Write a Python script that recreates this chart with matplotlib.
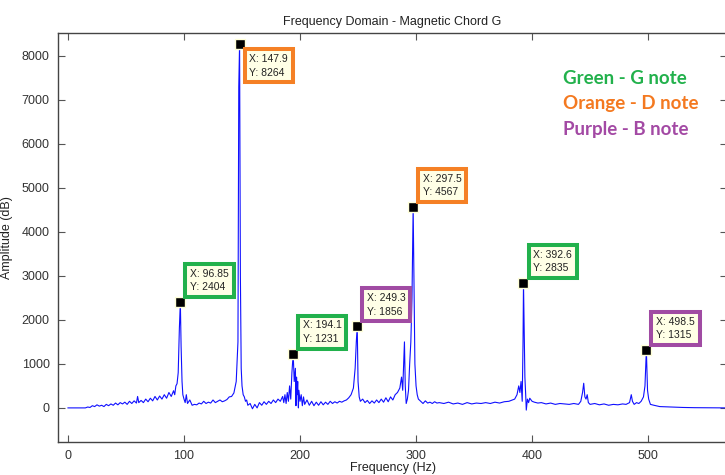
import matplotlib
matplotlib.use("Agg")
import matplotlib.pyplot as plt

# spectrum (Hz, amplitude)
freq = [0, 5, 10, 15, 17, 19, 21, 23, 25, 27, 29, 31, 33, 35, 37, 39, 41, 43, 45, 47,
        49, 51, 53, 55, 57, 59, 60, 61, 63, 65, 67, 69, 71, 73, 75, 77, 79, 81, 83, 85,
        87, 89, 91, 92, 93, 94, 95, 96, 96.85, 97.5, 98.3, 99, 100, 101, 102, 103, 105,
        107, 109, 111, 113, 115, 117, 119, 121, 123, 125, 127, 129, 131, 133, 135, 137,
        139, 141, 143, 145, 146.5, 147.2, 147.9, 148.6, 149.3, 150, 151, 152, 153, 154,
        155, 157, 159, 161, 163, 165, 167, 169, 171, 173, 175, 177, 179, 181, 183, 185,
        186, 187, 188, 189, 190, 191, 192, 193, 194.1, 195, 196, 196.5, 197, 197.5, 198,
        198.6, 199, 200, 201, 202, 203, 204, 206, 208, 210, 212, 214, 216, 218, 220, 222,
        224, 226, 228, 230, 232, 234, 236, 238, 240, 242, 244, 246, 247.5, 248.5, 249.3,
        250, 251, 252, 254, 256, 258, 260, 262, 264, 266, 268, 270, 272, 274, 276, 278,
        280, 282, 284, 286, 287.5, 288.5, 290, 290.7, 291.5, 292.5, 293.5, 294.5, 295.5,
        296.5, 297.5, 298.2, 299, 300, 301, 302, 304, 306, 308, 310, 312, 314, 316, 318,
        320, 324, 328, 332, 336, 340, 344, 348, 352, 356, 360, 364, 368, 372, 376, 380,
        383, 385, 387, 388.5, 389.5, 390.5, 391.5, 392.2, 392.6, 393.2, 393.8, 394.5, 395,
        396, 397, 398, 400, 402, 405, 408, 412, 416, 420, 424, 428, 432, 436, 440, 442,
        443.5, 444.5, 445.5, 446.5, 447.5, 448.5, 450, 454, 458, 462, 466, 470, 474, 478,
        481, 484, 485.5, 486.5, 488, 490, 492, 494, 496, 497.3, 498.5, 499.5, 500.5, 502,
        505, 510, 520, 530, 540, 560, 568]
amp = [0, 0, 0, 0, 20, 10, 50, 30, 70, 40, 60, 30, 80, 50, 90, 60, 110, 70, 120, 90,
       130, 80, 150, 100, 160, 110, 260, 120, 170, 120, 200, 140, 220, 160, 260, 180, 270, 200, 300, 220,
       350, 260, 390, 300, 500, 550, 800, 1800, 2404, 1400, 600, 300, 200, 120, 300, 100, 180,
       60, 80, 70, 110, 90, 150, 100, 130, 110, 180, 120, 150, 180, 140, 160, 190,
       250, 260, 340, 600, 1500, 7300, 8264, 3000, 900, 500, 300, 250, 150, 180,
       60, 100, -20, 80, 0, 120, 60, 140, 80, 150, 100, 180, 120, 200, 150, 260,
       120, 300, 100, 350, 150, 500, 200, 800, 1231, 600, 900, 50, 700, 300, 600,
       0, 400, 150, 300, 50, 250, 80, 180, 60, 150, 50, 130, 60, 140, 70, 130,
       80, 150, 100, 140, 110, 150, 130, 160, 180, 230, 300, 450, 900, 1500, 1856,
       600, 250, 150, 200, 120, 170, 100, 160, 110, 180, 120, 200, 130, 230, 140, 250,
       180, 300, 350, 450, 700, 400, 1500, 500, 100, 200, 400, 1000, 1500,
       2500, 4567, 2800, 1000, 500, 300, 200, 150, 100, 160, 110, 130, 100, 140, 110,
       120, 100, 130, 90, 110, 80, 120, 90, 110, 100, 120, 100, 130, 110, 140, 150,
       180, 200, 300, 500, 350, 600, 150, 1500, 2835, 1800, 700, 300, -50,
       200, 120, 220, 150, 130, 110, 120, 90, 110, 80, 100, 90, 80, 100, 80, 150,
       350, 560, 250, 200, 300, 120, 80, 100, 70, 90, 60, 80, 70, 90,
       80, 120, 300, 150, 80, 120, 100, 150, 250, 500, 1315, 400, 200, 80,
       60, 30, 20, 10, 5, 0, 0]

# data tips: x, y, note colour, box above/below the point
tip_x = [96.85, 147.9, 194.1, 249.3, 297.5, 392.6, 498.5]
tip_y = [2404, 8264, 1231, 1856, 4567, 2835, 1315]
tip_col = ["#22B14C", "#F58025", "#22B14C", "#A04BA3", "#F58025", "#22B14C", "#A04BA3"]
tip_below = [False, True, False, False, False, False, False]

notes = ["Green - G note", "Orange - D note", "Purple - B note"]
note_col = ["#22B14C", "#F47920", "#A349A4"]

plt.rcParams["font.family"] = ["Liberation Sans", "DejaVu Sans"]

fig = plt.figure(figsize=(7.25, 4.75), dpi=100)
ax = fig.add_axes([58 / 725, 1 - 442 / 475, 669 / 725, 409 / 475])

ax.plot(freq, amp, color="#1010FF", lw=0.8)

for x, y, c, below in zip(tip_x, tip_y, tip_col, tip_below):
    ax.plot(x, y, "s", color="black", ms=7, mec="#FFFFD8", mew=1, zorder=5)
    if x == int(x):
        xs = "%g" % x
    else:
        xs = ("%.2f" % x).rstrip("0")
    ax.annotate("X: %s\nY: %d" % (xs, y), (x, y),
                xytext=(7, -7 if below else 7), textcoords="offset points",
                ha="left", va="top" if below else "bottom",
                fontsize=7.5, color="#222222", linespacing=1.45,
                bbox=dict(boxstyle="square,pad=0.45", fc="#FFFFE6", ec=c, lw=2.9),
                zorder=6)

ax.set_xlim(-8.6, 568)
ax.set_ylim(-775, 8520)
ax.set_xticks(range(0, 600, 100))
ax.set_yticks(range(0, 9000, 1000))
ax.tick_params(direction="in", top=True, right=True, length=5, width=0.8,
               labelsize=9, colors="#555555", labelcolor="#333333", pad=6)
for s in ax.spines.values():
    s.set_color("#444444")
    s.set_linewidth(1)

ax.set_title("Frequency Domain - Magnetic Chord G", fontsize=9, color="#222222", pad=6)
ax.set_xlabel("Frequency (Hz)", fontsize=9, color="#222222", labelpad=0)
ax.set_ylabel("Amplitude (dB)", fontsize=9, color="#222222", labelpad=6)

for i, (t, c) in enumerate(zip(notes, note_col)):
    fig.text(563 / 725, 1 - (78 + 26 * i) / 475, t, color=c, fontsize=13.5,
             fontweight="bold", family=["Lato", "DejaVu Sans"], va="center")

fig.savefig("out.png", dpi=100)
